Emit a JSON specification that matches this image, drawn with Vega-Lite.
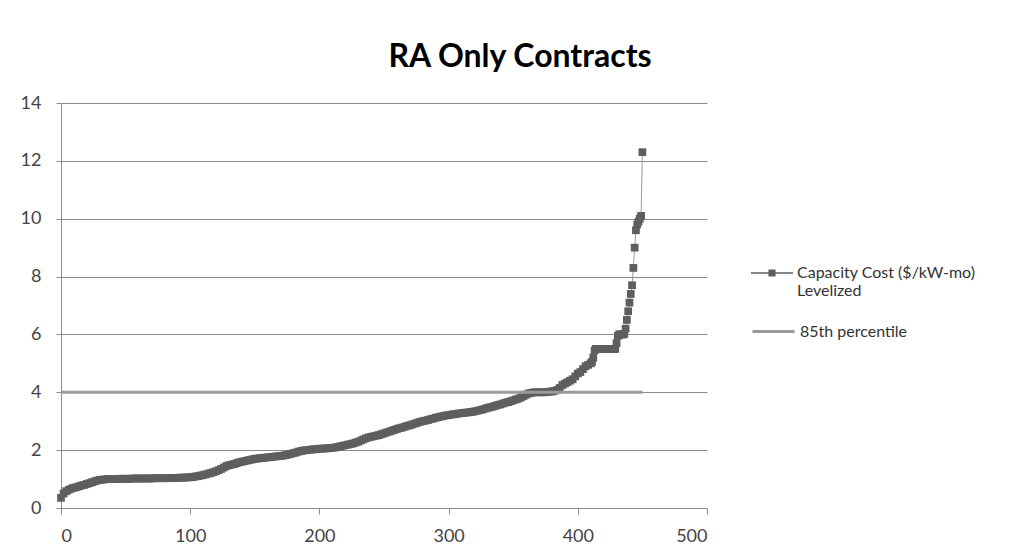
{
  "$schema": "https://vega.github.io/schema/vega-lite/v6.json",
  "width": 646,
  "height": 405,
  "autosize": "none",
  "padding": {"left": 61, "top": 103, "right": 317, "bottom": 50},
  "background": "white",
  "config": {"view": {"stroke": null}, "font": "Lato"},
  "title": {"text": "RA Only Contracts", "font": "Lato", "fontSize": 32, "fontWeight": "bold", "color": "#000000", "anchor": "middle", "dx": 136, "offset": 20},
  "datasets": {
    "cost": [
      {"x":0,"y":0.35},{"x":2,"y":0.5},{"x":4,"y":0.58},{"x":6,"y":0.63},{"x":8,"y":0.67},{"x":10,"y":0.7},{"x":12,"y":0.72},{"x":14,"y":0.75},{"x":16,"y":0.78},{"x":18,"y":0.8},
      {"x":20,"y":0.83},{"x":22,"y":0.86},{"x":24,"y":0.89},{"x":26,"y":0.92},{"x":28,"y":0.95},{"x":30,"y":0.97},{"x":32,"y":0.98},{"x":34,"y":0.99},{"x":36,"y":1.0},{"x":38,"y":1.0},
      {"x":40,"y":1.0},{"x":42,"y":1.0},{"x":44,"y":1.0},{"x":46,"y":1.01},{"x":48,"y":1.01},{"x":50,"y":1.01},{"x":52,"y":1.01},{"x":54,"y":1.01},{"x":56,"y":1.02},{"x":58,"y":1.02},
      {"x":60,"y":1.02},{"x":62,"y":1.02},{"x":64,"y":1.02},{"x":66,"y":1.02},{"x":68,"y":1.02},{"x":70,"y":1.02},{"x":72,"y":1.03},{"x":74,"y":1.03},{"x":76,"y":1.03},{"x":78,"y":1.03},
      {"x":80,"y":1.03},{"x":82,"y":1.03},{"x":84,"y":1.04},{"x":86,"y":1.04},{"x":88,"y":1.04},{"x":90,"y":1.04},{"x":92,"y":1.05},{"x":94,"y":1.05},{"x":96,"y":1.05},{"x":98,"y":1.06},
      {"x":100,"y":1.06},{"x":102,"y":1.07},{"x":104,"y":1.09},{"x":106,"y":1.1},{"x":108,"y":1.12},{"x":110,"y":1.14},{"x":112,"y":1.16},{"x":114,"y":1.19},{"x":116,"y":1.21},{"x":118,"y":1.24},
      {"x":120,"y":1.27},{"x":122,"y":1.31},{"x":124,"y":1.35},{"x":126,"y":1.4},{"x":128,"y":1.45},{"x":130,"y":1.48},{"x":132,"y":1.5},{"x":134,"y":1.52},{"x":136,"y":1.55},{"x":138,"y":1.58},
      {"x":140,"y":1.6},{"x":142,"y":1.62},{"x":144,"y":1.64},{"x":146,"y":1.66},{"x":148,"y":1.68},{"x":150,"y":1.7},{"x":152,"y":1.71},{"x":154,"y":1.72},{"x":156,"y":1.73},{"x":158,"y":1.74},
      {"x":160,"y":1.75},{"x":162,"y":1.76},{"x":164,"y":1.77},{"x":166,"y":1.78},{"x":168,"y":1.79},{"x":170,"y":1.8},{"x":172,"y":1.81},{"x":174,"y":1.83},{"x":176,"y":1.85},{"x":178,"y":1.87},
      {"x":180,"y":1.9},{"x":182,"y":1.92},{"x":184,"y":1.95},{"x":186,"y":1.97},{"x":188,"y":1.99},{"x":190,"y":2.0},{"x":192,"y":2.01},{"x":194,"y":2.02},{"x":196,"y":2.03},{"x":198,"y":2.04},
      {"x":200,"y":2.05},{"x":202,"y":2.05},{"x":204,"y":2.06},{"x":206,"y":2.06},{"x":208,"y":2.07},{"x":210,"y":2.08},{"x":212,"y":2.09},{"x":214,"y":2.11},{"x":216,"y":2.13},{"x":218,"y":2.15},
      {"x":220,"y":2.17},{"x":222,"y":2.19},{"x":224,"y":2.21},{"x":226,"y":2.23},{"x":228,"y":2.26},{"x":230,"y":2.29},{"x":232,"y":2.33},{"x":234,"y":2.37},{"x":236,"y":2.41},{"x":238,"y":2.44},
      {"x":240,"y":2.46},{"x":242,"y":2.48},{"x":244,"y":2.5},{"x":246,"y":2.52},{"x":248,"y":2.55},{"x":250,"y":2.58},{"x":252,"y":2.61},{"x":254,"y":2.64},{"x":256,"y":2.67},{"x":258,"y":2.7},
      {"x":260,"y":2.73},{"x":262,"y":2.76},{"x":264,"y":2.78},{"x":266,"y":2.81},{"x":268,"y":2.84},{"x":270,"y":2.86},{"x":272,"y":2.89},{"x":274,"y":2.92},{"x":276,"y":2.95},{"x":278,"y":2.98},
      {"x":280,"y":3.0},{"x":282,"y":3.02},{"x":284,"y":3.04},{"x":286,"y":3.07},{"x":288,"y":3.09},{"x":290,"y":3.12},{"x":292,"y":3.14},{"x":294,"y":3.16},{"x":296,"y":3.18},{"x":298,"y":3.2},
      {"x":300,"y":3.21},{"x":302,"y":3.23},{"x":304,"y":3.24},{"x":306,"y":3.25},{"x":308,"y":3.27},{"x":310,"y":3.28},{"x":312,"y":3.29},{"x":314,"y":3.3},{"x":316,"y":3.31},{"x":318,"y":3.32},
      {"x":320,"y":3.34},{"x":322,"y":3.36},{"x":324,"y":3.38},{"x":326,"y":3.4},{"x":328,"y":3.43},{"x":330,"y":3.46},{"x":332,"y":3.48},{"x":334,"y":3.5},{"x":336,"y":3.53},{"x":338,"y":3.56},
      {"x":340,"y":3.58},{"x":342,"y":3.61},{"x":344,"y":3.64},{"x":346,"y":3.66},{"x":348,"y":3.69},{"x":350,"y":3.72},{"x":352,"y":3.75},{"x":354,"y":3.78},{"x":356,"y":3.82},{"x":358,"y":3.87},
      {"x":360,"y":3.92},{"x":362,"y":3.96},{"x":364,"y":3.98},{"x":366,"y":4.0},{"x":368,"y":4.0},{"x":370,"y":4.0},{"x":372,"y":4.0},{"x":374,"y":4.0},{"x":376,"y":4.01},{"x":378,"y":4.02},
      {"x":380,"y":4.03},{"x":382,"y":4.05},{"x":384,"y":4.08},{"x":386,"y":4.15},{"x":388,"y":4.25},{"x":390,"y":4.3},{"x":392,"y":4.35},{"x":394,"y":4.4},{"x":396,"y":4.45},{"x":398,"y":4.55},
      {"x":400,"y":4.65},{"x":402,"y":4.7},{"x":404,"y":4.8},{"x":406,"y":4.9},{"x":408,"y":4.95},{"x":410,"y":5.0},{"x":411,"y":5.05},{"x":412,"y":5.2},{"x":413,"y":5.45},{"x":414,"y":5.5},
      {"x":415,"y":5.5},{"x":416,"y":5.5},{"x":417,"y":5.5},{"x":418,"y":5.5},{"x":419,"y":5.5},{"x":420,"y":5.5},{"x":421,"y":5.5},{"x":422,"y":5.5},{"x":423,"y":5.5},{"x":424,"y":5.5},
      {"x":425,"y":5.5},{"x":426,"y":5.5},{"x":427,"y":5.5},{"x":428,"y":5.5},{"x":429,"y":5.5},{"x":430,"y":5.7},{"x":431,"y":5.95},{"x":432,"y":6.0},{"x":433,"y":6.0},{"x":434,"y":6.0},
      {"x":435,"y":6.0},{"x":436,"y":6.02},{"x":437,"y":6.2},{"x":438,"y":6.5},{"x":439,"y":6.8},{"x":440,"y":7.1},{"x":441,"y":7.4},{"x":442,"y":7.7},{"x":443,"y":8.3},{"x":444,"y":9.0},
      {"x":445,"y":9.6},{"x":446,"y":9.8},{"x":447,"y":9.9},{"x":448,"y":10.0},{"x":449,"y":10.1},{"x":450,"y":12.3}
    ],
    "pct": [
      {"x":0,"y":4.0},{"x":450,"y":4.0}
    ]
  },
  "encoding": {
    "x": {"field": "x", "type": "quantitative", "scale": {"domain": [0, 500], "nice": false, "zero": false},
      "axis": {"title": null, "values": [0,100,200,300,400,500], "grid": false, "domainColor": "#8c8c8c", "tickColor": "#8c8c8c", "tickSize": 6, "labelFont": "Lato", "labelFontSize": 18, "labelColor": "#444444", "labelPadding": 13}},
    "y": {"field": "y", "type": "quantitative", "scale": {"domain": [0, 14], "nice": false},
      "axis": {"title": null, "values": [0,2,4,6,8,10,12,14], "grid": true, "gridColor": "#8c8c8c", "gridOpacity": 1, "gridWidth": 1, "domainColor": "#8c8c8c", "tickColor": "#8c8c8c", "tickSize": 5, "labelFont": "Lato", "labelFontSize": 18, "labelColor": "#444444", "labelPadding": 15}}
  },
  "layer": [
    {
      "data": {"name": "cost"},
      "mark": {"type": "line", "stroke": "#9a9a9a", "strokeWidth": 1},
      "encoding": {}
    },
    {
      "data": {"name": "cost"},
      "transform": [{"calculate": "'Capacity Cost ($/kW-mo) Levelized'", "as": "series"}],
      "mark": {"type": "point", "shape": "square", "filled": true, "size": 60, "opacity": 1},
      "encoding": {
        "color": {"field": "series", "type": "nominal",
          "scale": {"domain": ["Capacity Cost ($/kW-mo) Levelized"], "range": ["#5e5e5e"]},
          "legend": {
            "title": null, "orient": "none", "legendX": 690, "legendY": 149,
            "symbolType": "M-1,-0.03H-0.17V-0.17H0.17V-0.03H1V0.03H0.17V0.17H-0.17V0.03H-1Z",
            "symbolSize": 1764, "symbolStrokeWidth": 0, "symbolOpacity": 1,
            "labelFont": "Lato", "labelFontSize": 16, "labelColor": "#333333", "labelOffset": 4, "labelLimit": 300,
            "labelExpr": "datum.value === 'Capacity Cost ($/kW-mo) Levelized' ? ['Capacity Cost ($/kW-mo)', 'Levelized'] : datum.label"
          }
        }
      }
    },
    {
      "data": {"name": "pct"},
      "transform": [{"calculate": "'85th percentile'", "as": "series"}],
      "mark": {"type": "line", "strokeWidth": 3, "stroke": "#9a9a9a"},
      "encoding": {
        "strokeDash": {"field": "series", "type": "nominal",
          "scale": {"domain": ["85th percentile"], "range": [[1, 0]]},
          "legend": {
            "title": null, "orient": "none", "legendX": 690, "legendY": 206,
            "symbolType": "stroke", "symbolSize": 1764, "symbolStrokeWidth": 3, "symbolStrokeColor": "#9a9a9a",
            "labelFont": "Lato", "labelFontSize": 16, "labelColor": "#333333", "labelOffset": 4, "labelLimit": 300
          }
        }
      }
    }
  ]
}
